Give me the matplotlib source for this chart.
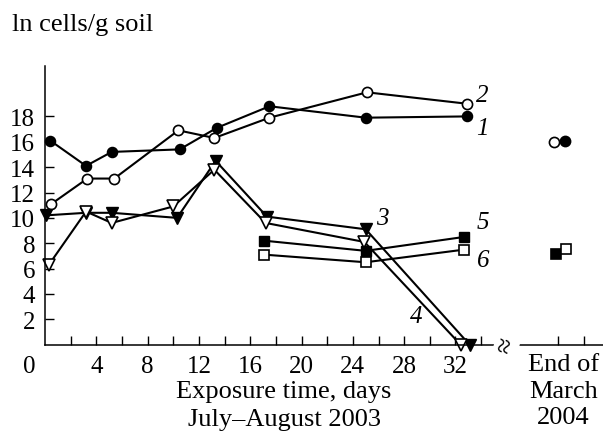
import matplotlib.pyplot as plt
import matplotlib.transforms as mtransforms
import numpy as np

plt.rcParams['font.family'] = ['Liberation Serif', 'DejaVu Serif']

# Data: exposure day and ln cells/g soil
days1 = [0.4, 3.2, 5.2, 10.5, 13.4, 17.5, 25.0, 32.9]
vals1 = [16.1, 14.1, 15.2, 15.4, 17.1, 18.8, 17.9, 18.0]
days2 = [0.5, 3.3, 5.4, 10.4, 13.2, 17.5, 25.1, 32.9]
vals2 = [11.1, 13.1, 13.1, 16.9, 16.3, 17.9, 19.9, 19.0]
days3 = [0.1, 3.2, 5.2, 10.3, 13.3, 17.3, 25.0, 33.1]
vals3 = [10.2, 10.4, 10.4, 10.0, 14.5, 10.1, 9.1, 0.0]
days4 = [0.3, 3.2, 5.2, 10.0, 13.2, 17.2, 24.9, 32.4]
vals4 = [6.3, 10.5, 9.6, 10.9, 13.8, 9.6, 8.1, 0.0]
days5 = [17.1, 25.0, 32.7]
vals5 = [8.2, 7.4, 8.5]
days6 = [17.1, 25.0, 32.7]
vals6 = [7.1, 6.5, 7.5]

# End of March 2004 points (placed after the axis break)
march_x = [40.5, 39.7, 39.8, 40.6]
march_y = [16.1, 16.0, 7.15, 7.55]

labels = ['1', '2', '3', '4', '5', '6']
label_x = [34.1, 34.1, 26.3, 28.9, 34.1, 34.2]
label_y = [17.05, 19.7, 9.96, 2.3, 9.64, 6.7]

fig = plt.figure(figsize=(6.03, 4.35), dpi=100)
ax = fig.add_axes([0.0746, 0.2053, 0.9254, 0.6414])

lw = 1.5
ms = 7.3
ax.plot(days1, vals1, '-o', color='black', lw=lw, ms=ms, mfc='black', mec='black', clip_on=False)
ax.plot(days2, vals2, '-o', color='black', lw=lw, ms=ms, mfc='white', mec='black', mew=1.2, clip_on=False)
ax.plot(days3, vals3, '-v', color='black', lw=lw, ms=ms + 1, mfc='black', mec='black', clip_on=False)
ax.plot(days4, vals4, '-v', color='black', lw=lw, ms=ms + 1, mfc='white', mec='black', mew=1.2, clip_on=False)
ax.plot(days5, vals5, '-s', color='black', lw=lw, ms=ms - 0.5, mfc='black', mec='black', clip_on=False)
ax.plot(days6, vals6, '-s', color='black', lw=lw, ms=ms - 0.5, mfc='white', mec='black', mew=1.2, clip_on=False)

march_fc = ['black', 'white', 'black', 'white']
march_mk = ['o', 'o', 's', 's']
for x, y, fc, mk in zip(march_x, march_y, march_fc, march_mk):
    ax.plot([x], [y], mk, ms=ms if mk == 'o' else ms - 0.5, mfc=fc, mec='black', mew=1.2)

for lab, x, y in zip(labels, label_x, label_y):
    ax.text(x, y, lab, fontsize=18, style='italic', ha='center', va='center')

ax.set_xlim(0, 43.5)
ax.set_ylim(0, 22)

ax.spines['top'].set_visible(False)
ax.spines['right'].set_visible(False)
ax.spines['left'].set_linewidth(1.1)
ax.spines['bottom'].set_linewidth(1.1)

xpad = 7.5
ax.set_xticks([4, 8, 12, 16, 20, 24, 28, 32])
ax.set_xticks([2, 6, 10, 14, 18, 22, 26, 30, 34, 40, 42], minor=True)
ax.set_yticks([2, 4, 6, 8, 10, 12, 14, 16, 18])
ax.tick_params(axis='both', which='both', direction='in', length=6.5, width=1.0,
               labelsize=18)
ax.tick_params(axis='x', pad=xpad)
ax.tick_params(axis='y', pad=7)

# origin label sits left of the axis corner, same baseline as tick labels
zero_tr = mtransforms.offset_copy(ax.get_xaxis_transform(), fig=fig, y=-xpad, units='points')
ax.text(-1.2, 0, '0', fontsize=18, ha='center', va='top', transform=zero_tr, clip_on=False)

# axis break mark
ax.text(36.0, 0, '≈', fontsize=20, rotation=75, ha='center', va='center',
        transform=ax.transData, clip_on=False,
        bbox=dict(facecolor='white', edgecolor='none', pad=0.0))

fig.text(0.02, 0.9425, 'ln cells/g soil', fontsize=19, ha='left', va='center')
fig.text(284 / 603, 1 - 392 / 435, 'Exposure time, days', fontsize=19, ha='center', va='center')
fig.text(284 / 603, 1 - 420 / 435, 'July–August 2003', fontsize=19, ha='center', va='center')
fig.text(563.5 / 603, 1 - 365 / 435, 'End of', fontsize=19, ha='center', va='center')
fig.text(563.5 / 603, 1 - 392 / 435, 'March', fontsize=19, ha='center', va='center')
fig.text(563.5 / 603, 1 - 418 / 435, '2004', fontsize=19, ha='center', va='center')

fig.savefig('out.png', dpi=100)
